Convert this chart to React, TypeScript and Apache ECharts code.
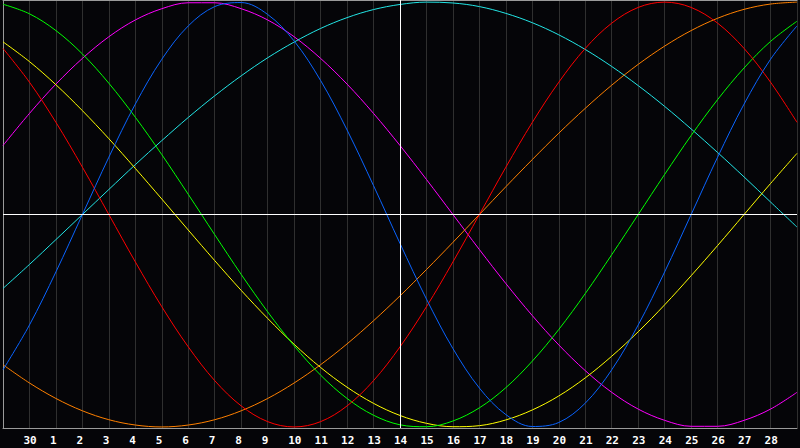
import React, { useEffect, useRef } from 'react';
import * as echarts from 'echarts';

// Day labels along the x axis (first and last grid edges are unlabeled)
const dates = ['29', '30', '1', '2', '3', '4', '5', '6', '7', '8', '9', '10', '11', '12', '13', '14', '15', '16', '17', '18', '19', '20', '21', '22', '23', '24', '25', '26', '27', '28', '29'];

// Values in percent (-100..100), read at each day line
const physical = [-73.1, -52.0, -27.0, 0, 27.0, 52.0, 73.1, 88.8, 97.9, 99.8, 94.2, 81.7, 63.1, 39.8, 13.6, -13.6, -39.8, -63.1, -81.7, -94.2, -99.8, -97.9, -88.8, -73.1, -52.0, -27.0, 0, 27.0, 52.0, 73.1, 88.8];
const emotional = [78.2, 62.3, 43.4, 22.3, 0, -22.3, -43.4, -62.3, -78.2, -90.1, -97.5, -100, -97.5, -90.1, -78.2, -62.3, -43.4, -22.3, 0, 22.3, 43.4, 62.3, 78.2, 90.1, 97.5, 100, 97.5, 90.1, 78.2, 62.3, 43.4];
const intellectual = [99.0, 94.5, 86.6, 75.6, 61.8, 45.8, 28.2, 9.5, -9.5, -28.2, -45.8, -61.8, -75.6, -86.6, -94.5, -99.0, -99.9, -97.2, -91.0, -81.5, -69.0, -54.1, -37.2, -18.9, 0, 18.9, 37.2, 54.1, 69.0, 81.5, 91.0];
const intuitive = [32.5, 47.6, 61.4, 73.5, 83.7, 91.6, 96.9, 99.7, 99.7, 96.9, 91.6, 83.7, 73.5, 61.4, 47.6, 32.5, 16.5, 0, -16.5, -32.5, -47.6, -61.4, -73.5, -83.7, -91.6, -96.9, -99.7, -99.7, -96.9, -91.6, -83.7];
const aesthetic = [81.3, 72.0, 61.1, 48.9, 35.7, 21.7, 7.3, -7.3, -21.7, -35.7, -48.9, -61.1, -72.0, -81.3, -88.9, -94.6, -98.3, -99.9, -99.4, -96.7, -92.0, -85.4, -76.9, -66.7, -55.2, -42.5, -28.8, -14.6, 0, 14.6, 28.8];
const awareness = [-70.7, -79.3, -86.6, -92.4, -96.6, -99.1, -100, -99.1, -96.6, -92.4, -86.6, -79.3, -70.7, -60.9, -50.0, -38.3, -25.9, -13.1, 0, 13.1, 25.9, 38.3, 50.0, 60.9, 70.7, 79.3, 86.6, 92.4, 96.6, 99.1, 100];
const spiritual = [-34.8, -23.5, -11.8, 0, 11.8, 23.5, 34.8, 45.7, 55.9, 65.3, 73.8, 81.2, 87.6, 92.7, 96.5, 98.9, 100.0, 99.6, 97.9, 94.7, 90.3, 84.6, 77.7, 69.7, 60.7, 50.9, 40.3, 29.2, 17.7, 5.9, -5.9];

const seriesDefs = [
  { name: 'Intuitive', data: intuitive, color: '#ff00ff' },
  { name: 'Spiritual', data: spiritual, color: '#22e6e6' },
  { name: 'Aesthetic', data: aesthetic, color: '#ffff00' },
  { name: 'Awareness', data: awareness, color: '#ff8000' },
  { name: 'Intellectual', data: intellectual, color: '#00ff00' },
  { name: 'Emotional', data: emotional, color: '#ff0000' },
  { name: 'Physical', data: physical, color: '#0a64ff' },
];

const todayLabel = '14';

export default function App() {
  const ref = useRef<HTMLDivElement>(null);
  useEffect(() => {
    const chart = echarts.init(ref.current!, null, { renderer: 'svg' });
    const frame = '#9a9a9a';
    chart.setOption({
      animation: false,
      backgroundColor: '#050508',
      grid: { left: 0.5, right: -0.5, top: 0, bottom: 20, containLabel: false },
      xAxis: [
        {
          type: 'category',
          data: dates,
          boundaryGap: false,
          position: 'bottom',
          axisLine: { show: true, onZero: false, lineStyle: { color: frame, width: 1 } },
          axisTick: { show: false },
          axisLabel: {
            show: true,
            interval: 0,
            margin: 7,
            color: '#ffffff',
            fontFamily: 'DejaVu Sans Mono',
            fontWeight: 'bold',
            fontSize: 11,
            formatter: (value: string, index: number) =>
              index === 0 || index === dates.length - 1 ? '' : `{a|${value}}`,
            rich: {
              a: {
                width: 12,
                align: 'left',
                color: '#ffffff',
                fontFamily: 'DejaVu Sans Mono',
                fontWeight: 'bold',
                fontSize: 11,
              },
            },
          },
          splitLine: { show: true, lineStyle: { color: '#2f2f2f', width: 1 } },
        },
        {
          type: 'category',
          data: dates,
          boundaryGap: false,
          position: 'top',
          axisLine: { show: true, onZero: false, lineStyle: { color: frame, width: 1 } },
          axisTick: { show: false },
          axisLabel: { show: false },
          splitLine: { show: false },
        },
      ],
      yAxis: {
        type: 'value',
        min: -100.5,
        max: 101,
        axisLine: { show: true, onZero: false, lineStyle: { color: frame, width: 1 } },
        axisTick: { show: false },
        axisLabel: { show: false },
        splitLine: { show: false },
      },
      series: [
        {
          type: 'line',
          data: [],
          z: 1,
          silent: true,
          markLine: {
            silent: true,
            symbol: ['none', 'none'],
            label: { show: false },
            lineStyle: { color: '#ffffff', width: 1, type: 'solid' },
            emphasis: { disabled: true },
            data: [{ yAxis: 0 }, { xAxis: todayLabel }],
          },
        },
        ...seriesDefs.map((s) => ({
          name: s.name,
          type: 'line',
          data: s.data,
          smooth: 0.35,
          showSymbol: false,
          symbol: 'none',
          silent: true,
          z: 3,
          lineStyle: { color: s.color, width: 1 },
          itemStyle: { color: s.color },
          emphasis: { disabled: true },
        })),
      ],
    });
    return () => chart.dispose();
  }, []);
  return <div ref={ref} style={{ position: 'fixed', left: 0, top: 0, width: 800, height: 448 }} />;
}
